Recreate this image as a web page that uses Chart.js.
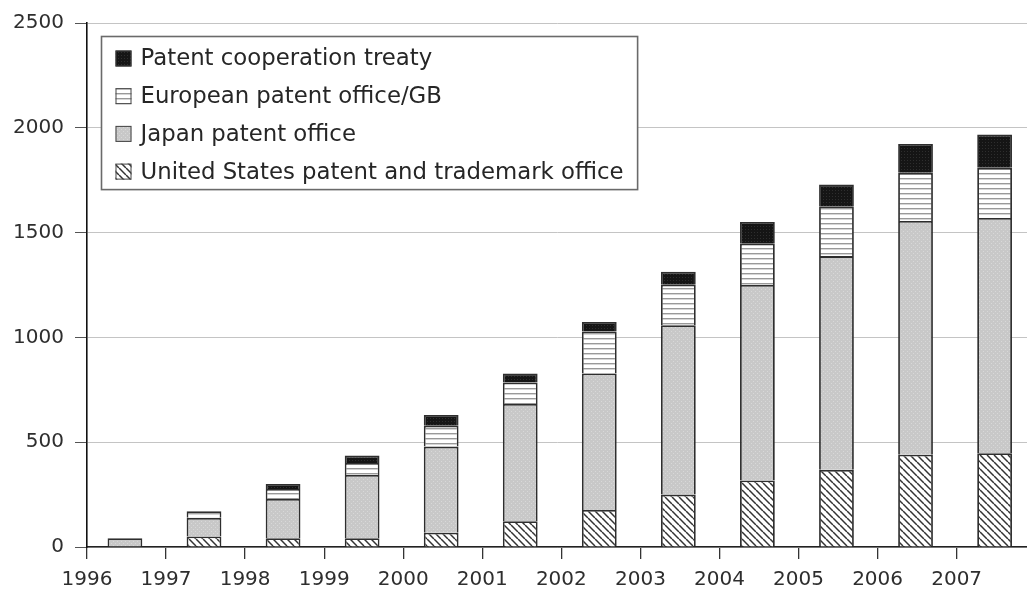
<!DOCTYPE html>
<html>
<head>
<meta charset="utf-8">
<script src="https://cdn.jsdelivr.net/npm/chart.js@4.4.1/dist/chart.umd.min.js"></script>
<style>
  html, body { margin: 0; padding: 0; background: #fff; }
  #wrap { width: 1027px; height: 595px; }
</style>
</head>
<body>
<div id="wrap"><canvas id="patentChart"></canvas></div>
<script>
// Filing years (each bar sits in the interval following its year tick)
const years = [1996, 1997, 1998, 1999, 2000, 2001, 2002, 2003, 2004, 2005, 2006, 2007];

// Patent counts per office
const usptoValues = [0, 50, 42, 42, 68, 123, 177, 250, 317, 368, 440, 447];
const jpoValues = [42, 89, 187, 302, 411, 559, 651, 808, 933, 1020, 1115, 1123];
const epoValues = [0, 31, 48, 57, 100, 103, 200, 193, 197, 238, 230, 239];
const pctValues = [0, 0, 24, 35, 51, 43, 46, 62, 104, 104, 138, 159];

const seriesLabels = [
    'United States patent and trademark office',
    'Japan patent office',
    'European patent office/GB',
    'Patent cooperation treaty'
];

const FONT = "'DejaVu Sans', 'Liberation Sans', sans-serif";
const canvas = document.getElementById('patentChart');
const mainCtx = canvas.getContext('2d');

// Function to build a small repeating fill pattern
function makePattern(size, drawTile) {
    const tile = document.createElement('canvas');
    tile.width = size;
    tile.height = size;
    drawTile(tile.getContext('2d'), size);
    return mainCtx.createPattern(tile, 'repeat');
}

// Diagonal hatch for the US office
const hatchFill = makePattern(7, (g, s) => {
    g.fillStyle = '#fff';
    g.fillRect(0, 0, s, s);
    g.strokeStyle = '#333';
    g.lineWidth = 1.5;
    for (const off of [-s, 0, s]) {
        g.beginPath();
        g.moveTo(off, 0);
        g.lineTo(off + s, s);
        g.stroke();
    }
});

// Light grey stipple for Japan
const stippleFill = makePattern(4, (g, s) => {
    g.fillStyle = '#c8c8c8';
    g.fillRect(0, 0, s, s);
    g.fillStyle = '#d8d8d8';
    g.fillRect(1, 1, 1, 1);
    g.fillRect(3, 3, 1, 1);
});

// Horizontal stripes for Europe
const stripeFill = makePattern(5, (g, s) => {
    g.fillStyle = '#fff';
    g.fillRect(0, 0, s, s);
    g.fillStyle = '#999';
    g.fillRect(0, 3, s, 1);
    g.fillStyle = '#d6d6d6';
    g.fillRect(0, 4, s, 1);
});

// Near-black for PCT
const darkFill = makePattern(3, (g, s) => {
    g.fillStyle = '#151515';
    g.fillRect(0, 0, s, s);
    g.fillStyle = '#2e2e2e';
    g.fillRect(1, 1, 1, 1);
});

const fills = [hatchFill, stippleFill, stripeFill, darkFill];
const seriesValues = [usptoValues, jpoValues, epoValues, pctValues];

// Bars are centred a little under half a year after each tick
function toPoints(values) {
    return values.map((v, i) => ({ x: years[i] + 0.48, y: v }));
}

const datasets = seriesValues.map((values, i) => ({
    label: seriesLabels[i],
    data: toPoints(values),
    backgroundColor: fills[i],
    borderColor: '#2e2e2e',
    borderWidth: 1.8,
    categoryPercentage: 1,
    barPercentage: 0.44
}));

// Legend drawn as a framed box inside the plot, top-left
const boxLegend = {
    id: 'boxLegend',
    afterDraw(chart) {
        const ctx = chart.ctx;
        const area = chart.chartArea;
        const left = area.left + 14.5;
        const top = area.top + 13.5;
        const rowGap = 37.7;
        const swatch = 16;
        ctx.save();
        ctx.font = `22.8px ${FONT}`;
        let maxW = 0;
        seriesLabels.forEach(l => { maxW = Math.max(maxW, ctx.measureText(l).width); });
        const width = 14 + swatch + 9 + maxW + 14;
        const height = 22 + rowGap * 3 + 18;
        ctx.fillStyle = '#fff';
        ctx.fillRect(left, top, width, height);
        ctx.strokeStyle = '#6a6a6a';
        ctx.lineWidth = 1.6;
        ctx.strokeRect(left, top, width, height);

        const order = [3, 2, 1, 0];
        order.forEach((k, row) => {
            const cy = top + 22 + row * rowGap;
            const sx = left + 14;
            ctx.fillStyle = fills[k];
            ctx.fillRect(sx, cy - swatch / 2, swatch, swatch);
            ctx.strokeStyle = '#444';
            ctx.lineWidth = 1;
            ctx.strokeRect(sx + 0.5, cy - swatch / 2 + 0.5, swatch - 1, swatch - 1);
            ctx.fillStyle = '#262626';
            ctx.textBaseline = 'middle';
            ctx.textAlign = 'left';
            ctx.fillText(seriesLabels[k], sx + swatch + 9, cy + 1);
        });
        ctx.restore();
    }
};

new Chart(canvas, {
    type: 'bar',
    data: { datasets: datasets },
    options: {
        responsive: true,
        maintainAspectRatio: false,
        animation: false,
        layout: { padding: { top: 20, right: 0, left: 0, bottom: 0 } },
        plugins: {
            legend: { display: false },
            tooltip: { enabled: false }
        },
        scales: {
            x: {
                type: 'linear',
                min: 1996,
                max: 2007.89,
                offset: false,
                stacked: true,
                grid: {
                    offset: false,
                    drawOnChartArea: false,
                    drawTicks: true,
                    tickLength: 12,
                    color: '#333',
                    lineWidth: 1.3
                },
                border: { display: true, color: '#222', width: 1.6 },
                ticks: {
                    stepSize: 1,
                    includeBounds: false,
                    autoSkip: false,
                    maxRotation: 0,
                    padding: 9,
                    color: '#2e2e2e',
                    font: { family: FONT, size: 20 },
                    callback: v => String(v)
                },
                afterFit: s => { s.height = 48; }
            },
            y: {
                stacked: true,
                min: 0,
                max: 2500,
                ticks: {
                    stepSize: 500,
                    padding: 11,
                    color: '#2e2e2e',
                    font: { family: FONT, size: 20 },
                    callback: v => String(v)
                },
                grid: {
                    color: '#c4c4c4',
                    lineWidth: 1,
                    tickColor: '#555',
                    tickLength: 12
                },
                border: { display: true, color: '#111', width: 1.6 },
                afterFit: s => { s.width = 87; }
            }
        }
    },
    plugins: [boxLegend]
});
</script>
</body>
</html>
